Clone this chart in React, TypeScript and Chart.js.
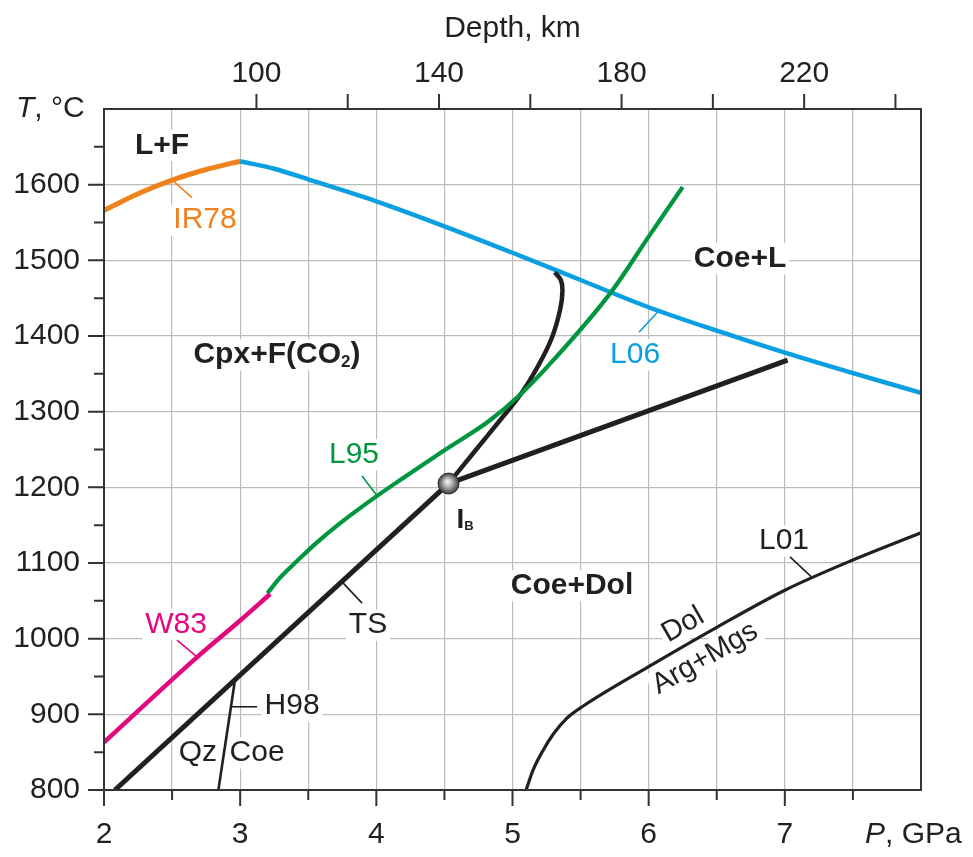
import React, { useEffect, useRef } from 'react';
import { Chart, registerables } from 'chart.js';

Chart.register(...registerables);

const FONT = '"Liberation Sans", Arial, Helvetica, sans-serif';
const INK = '#231f20';
const ORANGE = '#f0821e';
const BLUE = '#0a9fe0';
const GREEN = '#00963f';
const MAGENTA = '#e4087f';
const GRID = '#bcbcbc';

const P_MIN = 2;
const P_MAX = 8;
const T_MIN = 800;
const T_MAX = 1700;
const DEPTH_MIN = 66.6;
const DEPTH_MAX = 245.6;

const pressureTicks = [2, 2.5, 3, 3.5, 4, 4.5, 5, 5.5, 6, 6.5, 7, 7.5];
const pressureLabels = [2, 3, 4, 5, 6, 7];
const temperatureTicks = [800, 850, 900, 950, 1000, 1050, 1100, 1150, 1200, 1250, 1300, 1350, 1400, 1450, 1500, 1550, 1600, 1650];
const temperatureLabels = [800, 900, 1000, 1100, 1200, 1300, 1400, 1500, 1600];
const depthTicks = [100, 120, 140, 160, 180, 200, 220, 240];
const depthLabels = [100, 140, 180, 220];

// IR78 (orange)
const ir78P = [2.0, 2.25, 2.5, 2.75, 3.0];
const ir78T = [1566, 1588, 1606, 1620, 1631];
// L06 (blue)
const l06P = [3.0, 3.25, 3.5, 4.0, 4.5, 5.0, 5.5, 6.0, 6.5, 7.0, 7.5, 8.0];
const l06T = [1631, 1621, 1607, 1578, 1545, 1510, 1474, 1438, 1407, 1378, 1351, 1325];
// L95 (green)
const l95P = [3.2, 3.29, 3.42, 3.55, 3.73, 4.0, 4.17, 4.5, 4.83, 5.06, 5.3, 5.72, 6.01, 6.25];
const l95T = [1060, 1080, 1103, 1125, 1152, 1188, 1209, 1249, 1288, 1323, 1368, 1457, 1534, 1597];
// W83 (magenta)
const w83P = [2.0, 2.68, 3.0, 3.22];
const w83T = [863, 975, 1024, 1059];
// TS (black)
const tsP = [2.08, 4.53];
const tsT = [800, 1205];
const tsUpperP = [4.53, 4.72, 4.91, 5.06, 5.19, 5.29, 5.35, 5.367, 5.355, 5.31];
const tsUpperT = [1205, 1247, 1289, 1323, 1361, 1398, 1435, 1460, 1474, 1484];
// I_B to high pressure
const ibLineP = [4.53, 7.02];
const ibLineT = [1205, 1368];
// invariant point I_B
const ibP = 4.53;
const ibT = 1205;
// H98 Qz/Coe
const h98P = [2.84, 2.96];
const h98T = [800, 943];
// L01 Dol = Arg+Mgs
const l01P = [5.1, 5.15, 5.22, 5.3, 5.4, 5.52, 6.0, 6.5, 7.0, 7.5, 8.0];
const l01T = [800, 826, 851, 874, 895, 911, 963, 1015, 1064, 1104, 1140];

type Part = { s: string; bold?: boolean; italic?: boolean; size?: number; dy?: number };
type Label = { parts: Part[]; p: number; t: number; color: string; rot?: number; size?: number };

const labels: Label[] = [
  { parts: [{ s: 'L+F', bold: true }], p: 2.426, t: 1652, color: INK },
  { parts: [{ s: 'Coe+L', bold: true }], p: 6.671, t: 1502, color: INK },
  {
    parts: [
      { s: 'Cpx+F(CO', bold: true },
      { s: '2', bold: true, size: 17, dy: 7 },
      { s: ')', bold: true },
    ],
    p: 3.27, t: 1375, color: INK,
  },
  { parts: [{ s: 'Coe+Dol', bold: true }], p: 5.437, t: 1070, color: INK },
  { parts: [{ s: 'IR78' }], p: 2.742, t: 1553, color: ORANGE },
  { parts: [{ s: 'L06' }], p: 5.9, t: 1375, color: BLUE },
  { parts: [{ s: 'L95' }], p: 3.836, t: 1243, color: GREEN },
  { parts: [{ s: 'TS' }], p: 3.939, t: 1018, color: INK },
  { parts: [{ s: 'W83' }], p: 2.529, t: 1019, color: MAGENTA },
  { parts: [{ s: 'H98' }], p: 3.381, t: 911, color: INK },
  { parts: [{ s: 'Qz' }], p: 2.69, t: 849, color: INK },
  { parts: [{ s: 'Coe' }], p: 3.124, t: 849, color: INK },
  { parts: [{ s: 'L01' }], p: 6.994, t: 1129, color: INK },
  { parts: [{ s: 'Dol' }], p: 6.252, t: 1018, color: INK, rot: -30, size: 29 },
  { parts: [{ s: 'Arg+Mgs' }], p: 6.414, t: 974, color: INK, rot: -30, size: 29 },
  {
    parts: [
      { s: 'I', bold: true, size: 28 },
      { s: 'B', bold: true, size: 13, dy: 7 },
    ],
    p: 4.651, t: 1157, color: INK,
  },
];

const leaders = [
  { p1: 2.507, t1: 1605, p2: 2.646, t2: 1583, color: ORANGE },
  { p1: 6.068, t1: 1432, p2: 5.929, t2: 1405, color: BLUE },
  { p1: 4.005, t1: 1189, p2: 3.895, t2: 1215, color: GREEN },
  { p1: 3.748, t1: 1075, p2: 3.895, t2: 1047, color: INK },
  { p1: 2.683, t1: 976, p2: 2.536, t2: 998, color: MAGENTA },
  { p1: 2.93, t1: 910, p2: 3.124, t2: 910, color: INK },
  { p1: 7.199, t1: 1081, p2: 7.038, t2: 1108, color: INK },
];

const pts = (ps: number[], ts: number[]) => ps.map((p, i) => ({ x: p, y: ts[i] }));

function fontOf(p: Part, base: number) {
  return `${p.italic ? 'italic ' : ''}${p.bold ? 'bold ' : ''}${p.size ?? base}px ${FONT}`;
}

function drawParts(
  ctx: CanvasRenderingContext2D,
  parts: Part[],
  cx: number,
  cy: number,
  color: string,
  size: number,
  rotDeg: number,
  bg: boolean,
  align: 'center' | 'left' = 'center'
) {
  ctx.save();
  ctx.translate(cx, cy);
  if (rotDeg) ctx.rotate((rotDeg * Math.PI) / 180);
  const widths = parts.map((p) => {
    ctx.font = fontOf(p, size);
    return ctx.measureText(p.s).width;
  });
  const W = widths.reduce((a, b) => a + b, 0);
  let x0 = align === 'left' ? 0 : -W / 2;
  if (bg) {
    ctx.fillStyle = '#ffffff';
    ctx.fillRect(x0 - 3, -size * 0.52, W + 6, size * 1.04);
  }
  ctx.fillStyle = color;
  ctx.textBaseline = 'middle';
  ctx.textAlign = 'left';
  parts.forEach((p, i) => {
    ctx.font = fontOf(p, size);
    ctx.fillText(p.s, x0, p.dy ?? 0);
    x0 += widths[i];
  });
  ctx.restore();
}

const annotations = {
  id: 'annotations',
  beforeDatasetsDraw(chart: any) {
    const ctx: CanvasRenderingContext2D = chart.ctx;
    const xs = chart.scales.x;
    const ys = chart.scales.y;
    for (const L of labels) {
      drawParts(ctx, L.parts, xs.getPixelForValue(L.p), ys.getPixelForValue(L.t), L.color, L.size ?? 30, L.rot ?? 0, true);
    }
    ctx.save();
    ctx.lineWidth = 1.6;
    for (const l of leaders) {
      ctx.strokeStyle = l.color;
      ctx.beginPath();
      ctx.moveTo(xs.getPixelForValue(l.p1), ys.getPixelForValue(l.t1));
      ctx.lineTo(xs.getPixelForValue(l.p2), ys.getPixelForValue(l.t2));
      ctx.stroke();
    }
    ctx.restore();
  },
  afterDatasetsDraw(chart: any) {
    const ctx: CanvasRenderingContext2D = chart.ctx;
    const xs = chart.scales.x;
    const ys = chart.scales.y;
    const x2 = chart.scales.x2;
    const area = chart.chartArea;

    // invariant point sphere
    const cx = xs.getPixelForValue(ibP);
    const cy = ys.getPixelForValue(ibT);
    const r = 10.5;
    const g = ctx.createRadialGradient(cx - 1, cy - 2, 0.5, cx, cy, r);
    g.addColorStop(0, '#f4f4f4');
    g.addColorStop(0.45, '#a8a8a8');
    g.addColorStop(1, '#3c3c3c');
    ctx.save();
    ctx.fillStyle = g;
    ctx.beginPath();
    ctx.arc(cx, cy, r, 0, Math.PI * 2);
    ctx.fill();
    ctx.strokeStyle = '#2a2a2a';
    ctx.lineWidth = 1;
    ctx.stroke();

    // frame
    ctx.strokeStyle = '#333333';
    ctx.lineWidth = 2;
    ctx.strokeRect(area.left, area.top, area.right - area.left, area.bottom - area.top);

    // ticks
    ctx.lineWidth = 2;
    ctx.beginPath();
    for (const v of pressureTicks) {
      const x = xs.getPixelForValue(v);
      const len = Number.isInteger(v) ? 16 : 10;
      ctx.moveTo(x, area.bottom);
      ctx.lineTo(x, area.bottom + len);
    }
    for (const v of temperatureTicks) {
      const y = ys.getPixelForValue(v);
      const len = v % 100 === 0 ? 16 : 10;
      ctx.moveTo(area.left, y);
      ctx.lineTo(area.left - len, y);
    }
    for (const v of depthTicks) {
      const x = x2.getPixelForValue(v);
      ctx.moveTo(x, area.top);
      ctx.lineTo(x, area.top - 15);
    }
    ctx.stroke();
    ctx.restore();

    // axis titles
    drawParts(ctx, [{ s: 'Depth, km' }], (area.left + area.right) / 2, 29, INK, 30, 0, false);
    drawParts(ctx, [{ s: 'T', italic: true }, { s: ', °C' }], 16, area.top, INK, 30, 0, false, 'left');
    drawParts(ctx, [{ s: 'P', italic: true }, { s: ', GPa' }], 865, 835, INK, 30, 0, false, 'left');
  },
};

export default function App() {
  const ref = useRef<HTMLCanvasElement | null>(null);

  useEffect(() => {
    if (!ref.current) return;
    const line = (data: any[], color: string, width: number, mode: 'monotone' | 'tension' | 'straight') => ({
      data,
      showLine: true,
      borderColor: color,
      backgroundColor: color,
      borderWidth: width,
      pointRadius: 0,
      tension: mode === 'tension' ? 0.4 : 0,
      cubicInterpolationMode: mode === 'monotone' ? ('monotone' as const) : ('default' as const),
      fill: false,
      borderJoinStyle: 'round' as const,
    });
    const chart = new Chart(ref.current, {
      type: 'scatter',
      data: {
        datasets: [
          line(pts(l01P, l01T), INK, 3.2, 'monotone'),
          line(pts(h98P, h98T), INK, 2.6, 'straight'),
          line(pts(w83P, w83T), MAGENTA, 4.5, 'monotone'),
          line(pts(l95P, l95T), GREEN, 4.2, 'monotone'),
          line(pts(ibLineP, ibLineT), INK, 5, 'straight'),
          line(pts(tsP, tsT), INK, 5, 'straight'),
          line(pts(tsUpperP, tsUpperT), INK, 4.5, 'tension'),
          line(pts(l06P, l06T), BLUE, 4.5, 'monotone'),
          line(pts(ir78P, ir78T), ORANGE, 5, 'monotone'),
        ],
      },
      options: {
        responsive: false,
        animation: false,
        events: [],
        layout: { padding: { left: 0, right: 52, top: 0, bottom: 0 } },
        plugins: {
          legend: { display: false },
          tooltip: { enabled: false },
        },
        scales: {
          x: {
            type: 'linear',
            position: 'bottom',
            min: P_MIN,
            max: P_MAX,
            border: { display: false },
            afterFit: (s: any) => {
              s.height = 67;
            },
            afterBuildTicks: (s: any) => {
              s.ticks = [...pressureTicks, P_MAX].map((v) => ({ value: v }));
            },
            grid: {
              drawTicks: false,
              lineWidth: 1.2,
              color: (c: any) => {
                const v = c.tick?.value;
                return v > P_MIN && v < P_MAX ? GRID : 'rgba(0,0,0,0)';
              },
            },
            ticks: {
              autoSkip: false,
              maxRotation: 0,
              padding: 27,
              color: INK,
              font: { family: FONT, size: 30 },
              callback: (v: any) => (pressureLabels.includes(Number(v)) ? String(v) : ''),
            },
          },
          x2: {
            type: 'linear',
            position: 'top',
            min: DEPTH_MIN,
            max: DEPTH_MAX,
            border: { display: false },
            afterFit: (s: any) => {
              s.height = 109;
            },
            afterBuildTicks: (s: any) => {
              s.ticks = depthTicks.map((v) => ({ value: v }));
            },
            grid: { display: false, drawTicks: false },
            ticks: {
              autoSkip: false,
              maxRotation: 0,
              padding: 17,
              color: INK,
              font: { family: FONT, size: 30 },
              callback: (v: any) => (depthLabels.includes(Number(v)) ? String(v) : ''),
            },
          },
          y: {
            type: 'linear',
            position: 'left',
            min: T_MIN,
            max: T_MAX,
            border: { display: false },
            afterFit: (s: any) => {
              s.width = 104;
            },
            afterBuildTicks: (s: any) => {
              s.ticks = [...temperatureTicks, T_MAX].map((v) => ({ value: v }));
            },
            grid: {
              drawTicks: false,
              lineWidth: 1.2,
              color: (c: any) => {
                const v = c.tick?.value;
                return v > T_MIN && v < T_MAX && v % 100 === 0 ? GRID : 'rgba(0,0,0,0)';
              },
            },
            ticks: {
              autoSkip: false,
              padding: 24,
              color: INK,
              font: { family: FONT, size: 30 },
              callback: (v: any) => (temperatureLabels.includes(Number(v)) ? String(v) : ''),
            },
          },
        },
      },
      plugins: [annotations],
    });
    return () => chart.destroy();
  }, []);

  return (
    <div style={{ position: 'absolute', left: 0, top: 0, width: 973, height: 857, background: '#fff' }}>
      <canvas ref={ref} width={973} height={857} style={{ display: 'block', width: 973, height: 857 }} />
    </div>
  );
}
